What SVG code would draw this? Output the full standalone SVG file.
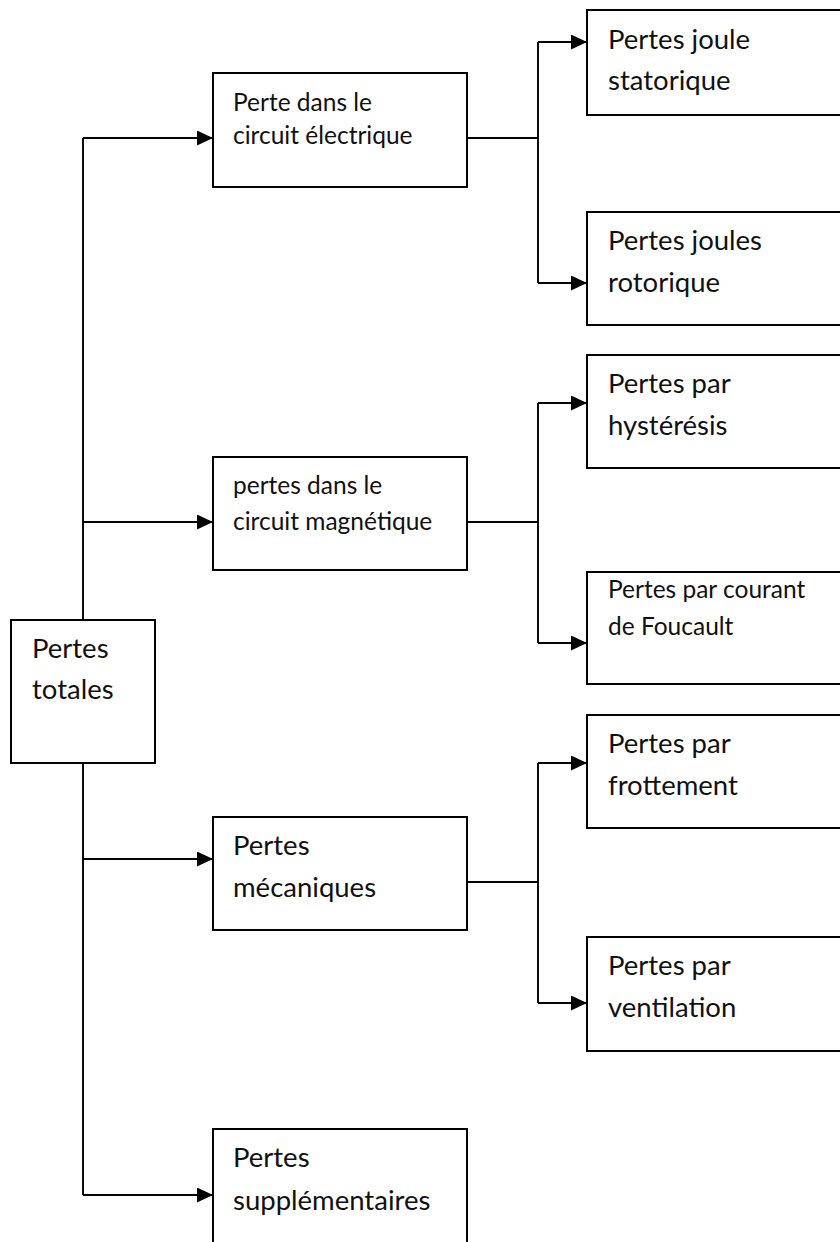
<svg xmlns="http://www.w3.org/2000/svg" width="840" height="1242" viewBox="0 0 840 1242">
  <style>
    .box { fill: #ffffff; stroke: #000000; stroke-width: 2; }
    .wire { fill: none; stroke: #000000; stroke-width: 1.9; }
    .big { font-family: Lato, "Liberation Sans", sans-serif; font-size: 27.5px; fill: #111111; }
    .small { font-family: Lato, "Liberation Sans", sans-serif; font-size: 24.5px; fill: #111111; }
  </style>
  <defs>
    <marker id="arrow" markerUnits="userSpaceOnUse" markerWidth="16" markerHeight="15" refX="16" refY="7.5" orient="auto">
      <path d="M0,0 L16,7.5 L0,15 Z" fill="#000000"/>
    </marker>
  </defs>
  <rect width="840" height="1242" fill="#ffffff"/>

  <g id="connectors">
    <!-- main trunk -->
    <path class="wire" d="M83,138 V1195"/>
    <path class="wire" d="M83,138 H213" marker-end="url(#arrow)"/>
    <path class="wire" d="M83,522 H213" marker-end="url(#arrow)"/>
    <path class="wire" d="M83,859 H213" marker-end="url(#arrow)"/>
    <path class="wire" d="M83,1195 H213" marker-end="url(#arrow)"/>
    <!-- electrical branch -->
    <path class="wire" d="M467,138 H538"/>
    <path class="wire" d="M538,42 V283"/>
    <path class="wire" d="M538,42 H587" marker-end="url(#arrow)"/>
    <path class="wire" d="M538,283 H587" marker-end="url(#arrow)"/>
    <!-- magnetic branch -->
    <path class="wire" d="M467,522 H538"/>
    <path class="wire" d="M538,403 V643"/>
    <path class="wire" d="M538,403 H587" marker-end="url(#arrow)"/>
    <path class="wire" d="M538,643 H587" marker-end="url(#arrow)"/>
    <!-- mechanical branch -->
    <path class="wire" d="M467,882 H538"/>
    <path class="wire" d="M538,763 V1003"/>
    <path class="wire" d="M538,763 H587" marker-end="url(#arrow)"/>
    <path class="wire" d="M538,1003 H587" marker-end="url(#arrow)"/>
  </g>

  <g id="pertes-totales">
    <rect class="box" x="11" y="620" width="144" height="143"/>
    <text class="big" x="32" y="658">Pertes</text>
    <text class="big" x="32" y="699">totales</text>
  </g>

  <g id="circuit-electrique">
    <rect class="box" x="213" y="73" width="254" height="114"/>
    <text class="small" x="233" y="111">Perte dans le</text>
    <text class="small" x="233" y="144">circuit électrique</text>
  </g>

  <g id="circuit-magnetique">
    <rect class="box" x="213" y="457" width="254" height="113"/>
    <text class="small" x="233" y="494">pertes dans le</text>
    <text class="small" x="233" y="530">circuit magnétique</text>
  </g>

  <g id="mecaniques">
    <rect class="box" x="213" y="817" width="254" height="113"/>
    <text class="big" x="233" y="855">Pertes</text>
    <text class="big" x="233" y="897">mécaniques</text>
  </g>

  <g id="supplementaires">
    <rect class="box" x="213" y="1129" width="254" height="130"/>
    <text class="big" x="233" y="1167">Pertes</text>
    <text class="big" x="233" y="1210">supplémentaires</text>
  </g>

  <g id="joule-statorique">
    <rect class="box" x="587" y="10" width="270" height="105"/>
    <text class="big" x="608" y="49">Pertes joule</text>
    <text class="big" x="608" y="90">statorique</text>
  </g>

  <g id="joules-rotorique">
    <rect class="box" x="587" y="212" width="270" height="113"/>
    <text class="big" x="608" y="250">Pertes joules</text>
    <text class="big" x="608" y="292">rotorique</text>
  </g>

  <g id="hysteresis">
    <rect class="box" x="587" y="355" width="270" height="113"/>
    <text class="big" x="608" y="393">Pertes par</text>
    <text class="big" x="608" y="435">hystérésis</text>
  </g>

  <g id="foucault">
    <rect class="box" x="587" y="572" width="270" height="112"/>
    <text class="small" x="608" y="598">Pertes par courant</text>
    <text class="small" x="608" y="635">de Foucault</text>
  </g>

  <g id="frottement">
    <rect class="box" x="587" y="715" width="270" height="113"/>
    <text class="big" x="608" y="753">Pertes par</text>
    <text class="big" x="608" y="795">frottement</text>
  </g>

  <g id="ventilation">
    <rect class="box" x="587" y="937" width="270" height="114"/>
    <text class="big" x="608" y="975">Pertes par</text>
    <text class="big" x="608" y="1017">ventilation</text>
  </g>
</svg>
